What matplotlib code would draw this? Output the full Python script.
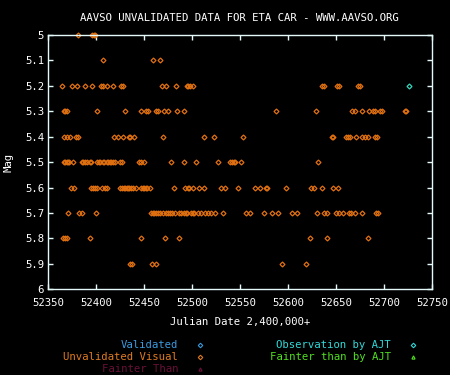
import numpy as np
import matplotlib
matplotlib.use("Agg")
import matplotlib.pyplot as plt
from matplotlib.lines import Line2D

# Julian dates (2,400,000+) of the unvalidated visual estimates, per magnitude
jd_500 = [52381, 52396, 52398, 52399]
jd_510 = [52407, 52459, 52466]
jd_520 = [52364, 52375, 52380, 52388, 52396, 52405, 52406.5, 52411, 52417, 52426,
          52428, 52468, 52473, 52483, 52494, 52496, 52498, 52501, 52635, 52637,
          52651, 52652.5, 52673, 52674.5]
jd_530 = [52366, 52367.5, 52370, 52401, 52430, 52447, 52452, 52453.5, 52462.5,
          52464, 52471, 52475, 52484, 52491, 52587, 52629, 52666, 52669, 52677,
          52684, 52688.5, 52690, 52695, 52698, 52721.5, 52723]
jd_540 = [52366, 52370, 52373, 52379, 52381, 52418, 52423, 52428, 52434, 52435.5,
          52439, 52469, 52512, 52523, 52553, 52645.5, 52647, 52660.5, 52662, 52664,
          52670, 52677, 52680, 52683, 52690.5, 52692]
jd_550 = [52366, 52367.5, 52369, 52370.5, 52372, 52376, 52385, 52386.5, 52388,
          52390, 52393.5, 52395, 52401, 52402.5, 52404, 52407, 52408.5, 52411,
          52412.5, 52414, 52415.5, 52417, 52420, 52425, 52427, 52444, 52447, 52450,
          52478, 52491, 52504, 52527, 52539, 52541, 52543.5, 52545, 52551, 52631]
jd_560 = [52374, 52377, 52395, 52397, 52399, 52400.5, 52406, 52409, 52411, 52425,
          52427, 52428.5, 52430, 52431.5, 52433, 52434.5, 52436, 52438, 52441,
          52447, 52448.5, 52450, 52451.5, 52453, 52456, 52481, 52492, 52495.5,
          52497, 52501, 52507, 52512, 52530, 52534, 52548, 52565, 52571, 52576.5,
          52578, 52598, 52624, 52627, 52635, 52647, 52652]
jd_570 = [52371, 52382, 52385, 52400, 52457, 52459, 52460.5, 52462, 52464, 52466,
          52470, 52473, 52474.5, 52477, 52479, 52482, 52486, 52488, 52491, 52493,
          52495, 52499, 52500.5, 52502, 52506, 52509, 52513, 52516, 52519, 52524,
          52532, 52556, 52560, 52575, 52583, 52589, 52604, 52609, 52630, 52637,
          52640, 52650, 52653, 52657, 52663.5, 52665, 52669, 52677, 52691.5, 52693]
jd_580 = [52365.5, 52367, 52369, 52393, 52447, 52472, 52486, 52623, 52640, 52683]
jd_590 = [52435.5, 52437, 52458, 52462, 52593, 52618]

rows = {5.0: jd_500, 5.1: jd_510, 5.2: jd_520, 5.3: jd_530, 5.4: jd_540,
        5.5: jd_550, 5.6: jd_560, 5.7: jd_570, 5.8: jd_580, 5.9: jd_590}

# observation by AJT
ajt_jd = [52726]
ajt_mag = [5.2]

x_ticks = [52350, 52400, 52450, 52500, 52550, 52600, 52650, 52700, 52750]
y_ticks = [5, 5.1, 5.2, 5.3, 5.4, 5.5, 5.6, 5.7, 5.8, 5.9, 6]

orange = '#e07010'
axcol = '#e4fafa'
font = 'DejaVu Sans Mono'
fs = 7.7

fig = plt.figure(figsize=(4.5, 3.75), dpi=100, facecolor='black')
ax = fig.add_axes([0.1073, 0.2285, 0.8534, 0.6782], facecolor='black')

for mag, jds in rows.items():
    ax.plot(jds, [mag] * len(jds), 'D', ms=2.5, mfc='none', mec=orange,
            mew=0.9, clip_on=False)
ax.plot(ajt_jd, ajt_mag, 'D', ms=2.5, mfc='none', mec='#30d8c0', mew=0.9)

ax.set_xlim(52350, 52750)
ax.set_ylim(6, 5)
ax.set_xticks(x_ticks)
ax.set_yticks(y_ticks)
ax.set_xticklabels([str(t) for t in x_ticks], fontfamily=font, fontsize=fs)
ax.set_yticklabels(['5', '5.1', '5.2', '5.3', '5.4', '5.5', '5.6', '5.7',
                    '5.8', '5.9', '6'], fontfamily=font, fontsize=fs)
ax.tick_params(direction='in', length=3.5, width=1, colors=axcol,
               top=True, right=True, labelcolor='white', pad=3)
ax.tick_params(axis='x', pad=6)
for s in ax.spines.values():
    s.set_color(axcol)
    s.set_linewidth(1)

ax.set_xlabel('Julian Date 2,400,000+', color='white', fontfamily=font,
              fontsize=fs, labelpad=7)
ax.set_ylabel('Mag', color='white', fontfamily=font, fontsize=fs, labelpad=8)
fig.text(0.533, 0.952, 'AAVSO UNVALIDATED DATA FOR ETA CAR - WWW.AAVSO.ORG',
         color='white', fontfamily=font, fontsize=fs, ha='center', va='center')

# legend below the plot
leg_left = [('Validated', '#3a9ae0', 'D'),
            ('Unvalidated Visual', '#e07a20', 'D'),
            ('Fainter Than', '#6a1038', '^')]
leg_right = [('Observation by AJT', '#30d8d8', 'D'),
             ('Fainter than by AJT', '#50e020', '^')]
for i, (txt, c, m) in enumerate(leg_left):
    y = 1 - (345 + 12 * i) / 375
    fig.text(178 / 450, y, txt, color=c, fontfamily=font, fontsize=fs,
             ha='right', va='center')
    fig.add_artist(Line2D([199.5 / 450], [y], marker=m, ms=2.3, mfc='none',
                          mec=c, mew=0.8, transform=fig.transFigure))
for i, (txt, c, m) in enumerate(leg_right):
    y = 1 - (345 + 12 * i) / 375
    fig.text(391 / 450, y, txt, color=c, fontfamily=font, fontsize=fs,
             ha='right', va='center')
    fig.add_artist(Line2D([413 / 450], [y], marker=m, ms=2.3, mfc='none',
                          mec=c, mew=0.8, transform=fig.transFigure))

fig.savefig('out.png', dpi=100, facecolor='black')
